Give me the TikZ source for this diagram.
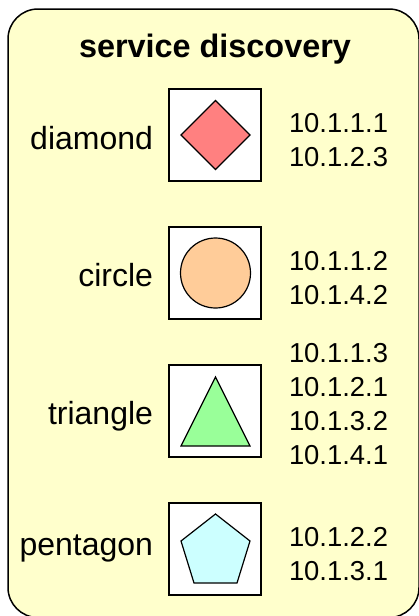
\documentclass[tikz,border=0pt]{standalone}
\usepackage{fontspec}
\setmainfont{Liberation Sans}
\definecolor{panelfill}{HTML}{FFFFCC}
\definecolor{pinkfill}{HTML}{FF8080}
\definecolor{orangefill}{HTML}{FFCC99}
\definecolor{greenfill}{HTML}{99FF99}
\definecolor{cyanfill}{HTML}{CCFFFF}
\tikzset{
  iconbox/.style={draw=black,fill=white,line width=1.1pt,minimum size=92pt,inner sep=0pt,outer sep=0pt,anchor=center},
  shapeline/.style={draw=black,line width=1.2pt,line join=miter},
  namelabel/.style={font=\fontsize{32}{38}\selectfont,anchor=base east,inner sep=0pt,outer sep=0pt},
  addrlabel/.style={font=\fontsize{27.4}{34}\selectfont,anchor=base west,inner sep=0pt,outer sep=0pt},
}
\begin{document}
\begin{tikzpicture}[x=1pt,y=-1pt]
\useasboundingbox (0,0) rectangle (419,616);
\clip (0,0) rectangle (419,616);
\draw[draw=black,fill=panelfill,line width=1.5pt,rounded corners=30pt] (8,9) rectangle (419,617.5);
\node[font=\bfseries\fontsize{32.4}{38}\selectfont,anchor=base,inner sep=0pt] (title) at (215,57.5) {service discovery};
% icon boxes
\node[iconbox] (boxd) at (215,135) {};
\node[iconbox] (boxc) at (215,273) {};
\node[iconbox] (boxt) at (215,411) {};
\node[iconbox] (boxp) at (215,549) {};
% shapes
\draw[shapeline,fill=pinkfill] (215.5,100.5) -- (250,135) -- (215.5,169.5) -- (181,135) -- cycle;
\draw[shapeline,fill=orangefill] (215.5,273) circle (35);
\draw[shapeline,fill=greenfill] (215.5,377) -- (250,446) -- (181,446) -- cycle;
\draw[shapeline,fill=cyanfill] (215.5,514) -- (250,541) -- (237,583) -- (194,583) -- (181,541) -- cycle;
% names
\node[namelabel] (nd) at (153,149) {diamond};
\node[namelabel] (nc) at (153,286) {circle};
\node[namelabel] (nt) at (153,424) {triangle};
\node[namelabel] (np) at (153,555) {pentagon};
% addresses
\node[addrlabel] (a1) at (289,132.5) {10.1.1.1};
\node[addrlabel] (a2) at (289,166.5) {10.1.2.3};
\node[addrlabel] (a3) at (289,270.5) {10.1.1.2};
\node[addrlabel] (a4) at (289,304.5) {10.1.4.2};
\node[addrlabel] (a5) at (289,362.5) {10.1.1.3};
\node[addrlabel] (a6) at (289,396.5) {10.1.2.1};
\node[addrlabel] (a7) at (289,430.5) {10.1.3.2};
\node[addrlabel] (a8) at (289,464.5) {10.1.4.1};
\node[addrlabel] (a9) at (289,546.5) {10.1.2.2};
\node[addrlabel] (a10) at (289,580.5) {10.1.3.1};
\end{tikzpicture}
\end{document}
